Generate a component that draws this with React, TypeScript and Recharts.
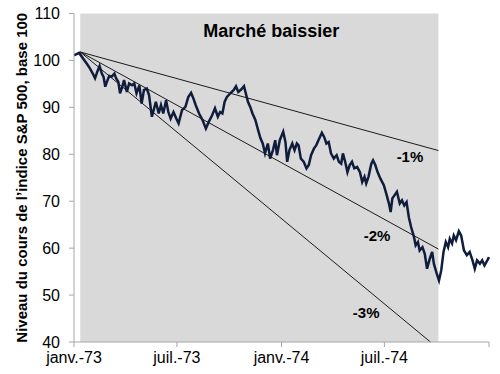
import React from 'react';
import { LineChart, Line, XAxis, YAxis, ReferenceArea, ReferenceLine, ReferenceDot } from 'recharts';

// x = days since 1 Jan 1973
const days = [
  0, 9, 16, 22, 28, 33, 37, 41, 45, 49, 52, 55, 59, 62, 66, 71, 74, 78, 81, 85,
  88, 93, 97, 102, 106, 110, 115, 119, 123, 128, 132, 137, 141, 144, 149, 153, 157, 162, 166, 170,
  175, 180, 184, 190, 196, 201, 206, 210, 214, 220, 226, 232, 237, 243, 248, 253, 257, 261, 265, 269,
  275, 281, 285, 289, 294, 299, 303, 306, 310, 314, 319, 324, 328, 332, 336, 341, 345, 350, 354, 357,
  362, 368, 372, 375, 379, 384, 388, 392, 395, 399, 404, 409, 413, 417, 422, 426, 430, 436, 440, 444,
  448, 452, 457, 462, 466, 470, 473, 477, 481, 485, 489, 493, 498, 503, 507, 511, 514, 518, 523, 526,
  530, 534, 539, 545, 550, 554, 557, 560, 564, 568, 573, 577, 581, 585, 589, 593, 598, 601, 605, 608,
  613, 617, 621, 626, 630, 633, 638, 642, 646, 650, 654, 658, 661, 665, 668, 672, 677, 681, 686, 691,
  696, 701, 705, 709, 714, 718, 722, 727, 730,
];
const values = [
  101.1, 101.6, 100.4, 99.4, 98.3, 97.2, 96.2, 97.6, 98.8, 97.2, 96.5, 94.4, 95.8, 96.7, 96.5, 97.2, 96.2, 95.4, 93.0, 94.4,
  95.8, 93.3, 95.1, 94.7, 95.1, 93.0, 94.7, 90.8, 93.7, 94.0, 92.6, 88.0, 89.8, 91.2, 88.7, 90.5, 88.7, 91.5, 89.0, 87.6,
  89.0, 87.6, 86.6, 89.4, 90.1, 92.2, 93.1, 91.9, 90.5, 88.7, 87.3, 85.5, 86.9, 88.3, 89.8, 88.0, 89.0, 88.7, 91.2, 92.2,
  93.0, 93.7, 94.5, 93.3, 93.8, 94.5, 92.6, 91.2, 90.1, 88.7, 87.3, 85.1, 83.4, 82.3, 80.2, 82.3, 79.1, 80.9, 83.0, 79.8,
  83.0, 84.8, 82.6, 78.4, 80.9, 82.3, 80.9, 82.3, 81.9, 79.1, 78.4, 77.0, 77.7, 79.8, 81.2, 81.9, 83.0, 84.6, 83.7, 82.3,
  82.6, 80.2, 79.1, 79.8, 78.4, 78.0, 80.2, 78.4, 76.2, 77.7, 78.4, 77.0, 77.3, 76.2, 74.1, 75.2, 73.8, 75.2, 78.0, 78.7,
  77.7, 76.2, 74.8, 73.4, 71.3, 69.5, 67.7, 70.6, 71.3, 72.0, 69.5, 70.2, 69.1, 69.8, 66.6, 64.5, 62.4, 60.6, 61.3, 59.5,
  60.2, 58.8, 55.6, 57.8, 59.2, 56.7, 54.6, 53.1, 55.3, 59.2, 61.3, 60.2, 62.0, 61.0, 62.7, 61.7, 63.6, 62.7, 59.5, 58.5,
  59.2, 57.4, 55.6, 57.4, 56.7, 57.4, 56.3, 57.4, 58.1,
];

const xTicks = [0, 181, 365, 546, 730];
const xTickLabels = ['janv.-73', 'juil.-73', 'janv.-74', 'juil.-74', ''];
const yTicks = [40, 50, 60, 70, 80, 90, 100, 110];

const bearStartDay = 11;
const bearEndDay = 641;

const trendStart = { d: 11, v: 101.8 };
const trendEndDays = [641, 641, 627];
const trendEndValues = [80.8, 59.8, 40];
const trendLabels = ['-1%', '-2%', '-3%'];
const trendLabelDays = [591, 533, 514];
const trendLabelValues = [79.4, 62.7, 46.2];

const title = 'Marché baissier';
const titleDay = 347;
const titleValue = 106.3;
const yAxisTitle = "Niveau du cours de l\u2019indice S&P 500, base 100";

const data = days.map((d, i) => ({ d, v: values[i] }));

const FONT = '"Liberation Sans", Arial, sans-serif';
const AXIS = '#a6a6a6';

export default function App() {
  return (
    <div style={{ position: 'absolute', left: 0, top: 0, background: '#fff' }}>
      <LineChart width={500} height={374} data={data} margin={{ top: 13.5, right: 11, bottom: 0, left: 0 }}>
        <ReferenceArea x1={bearStartDay} x2={bearEndDay} y1={40} y2={110} fill="#d9d9d9" fillOpacity={1} stroke="none" />
        <XAxis
          type="number"
          dataKey="d"
          domain={[0, 730]}
          ticks={xTicks}
          tickFormatter={(v: number) => xTickLabels[xTicks.indexOf(v)] ?? ''}
          height={32}
          stroke={AXIS}
          tickSize={5}
          tickMargin={5}
          tick={{ fill: '#000', fontSize: 16, fontFamily: FONT }}
          interval={0}
        />
        <YAxis
          type="number"
          domain={[40, 110]}
          ticks={yTicks}
          width={74}
          stroke={AXIS}
          tickSize={5}
          tickMargin={9}
          tick={{ fill: '#000', fontSize: 16, fontFamily: FONT }}
          interval={0}
          label={{
            content: (props: any) => {
              const vb = props.viewBox || { x: 0, y: 13.5, width: 74, height: 328.5 };
              const cx = vb.x + 26.5;
              const cy = vb.y + vb.height / 2;
              return (
                <text x={cx} y={cy} transform={`rotate(-90 ${cx} ${cy})`} textAnchor="middle" fontFamily={FONT} fontSize={15} fontWeight="bold" fill="#000">
                  {yAxisTitle}
                </text>
              );
            },
          }}
        />
        {trendEndDays.map((d, i) => (
          <ReferenceLine
            key={`t${i}`}
            segment={[{ x: trendStart.d, y: trendStart.v }, { x: d, y: trendEndValues[i] }]}
            stroke="#1a1a1a"
            strokeWidth={1}
          />
        ))}
        <Line type="linear" dataKey="v" stroke="#0f1c3c" strokeWidth={2.5} dot={false} isAnimationActive={false} />
        {trendLabels.map((t, i) => (
          <ReferenceDot
            key={`l${i}`}
            x={trendLabelDays[i]}
            y={trendLabelValues[i]}
            r={0}
            fill="none"
            stroke="none"
            label={{ value: t, position: 'center', fill: '#000', fontSize: 15, fontWeight: 'bold', fontFamily: FONT }}
          />
        ))}
        <ReferenceDot
          x={titleDay}
          y={titleValue}
          r={0}
          fill="none"
          stroke="none"
          label={{ value: title, position: 'center', fill: '#000', fontSize: 18, fontWeight: 'bold', fontFamily: FONT }}
        />
      </LineChart>
    </div>
  );
}
